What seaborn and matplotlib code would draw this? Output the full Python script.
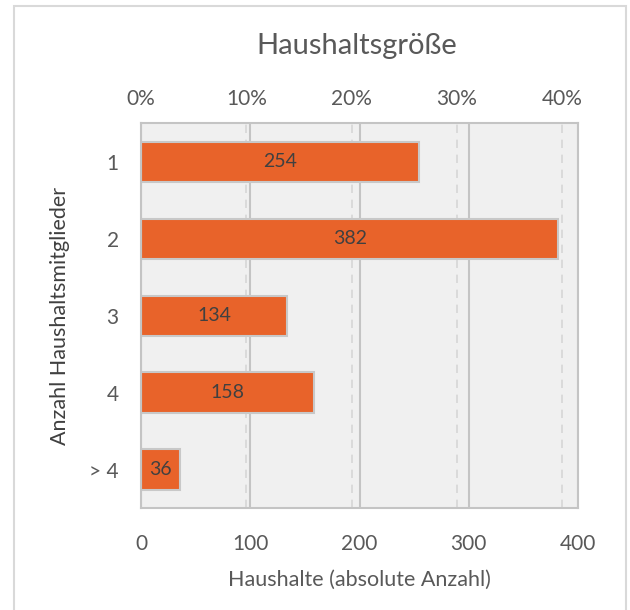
import matplotlib.pyplot as plt
import numpy as np
import pandas as pd
import seaborn as sns
from matplotlib.patches import Rectangle
from matplotlib.ticker import FuncFormatter

# data
sizes = ['1', '2', '3', '4', '> 4']
counts = [254, 382, 134, 158, 36]
pct_ticks = [0, 10, 20, 30, 40]
abs_ticks = [0, 100, 200, 300, 400]

total = sum(counts)
df = pd.DataFrame({'size': sizes, 'count': counts})

sns.set_theme(style='white')
plt.rcParams['font.family'] = ['Lato', 'DejaVu Sans']

text_color = '#595959'
line_color = '#c4c4c4'

fig = plt.figure(figsize=(6.3, 6.1), dpi=100)
ax = fig.add_axes([0.2238, 0.1672, 0.6937, 0.6311])
ax.set_facecolor('#f0f0f0')

sns.barplot(data=df, x='count', y='size', orient='h', color='#E8632A',
            edgecolor='#c8c8c8', linewidth=1.5, width=0.52, saturation=1, ax=ax)

ax.bar_label(ax.containers[0], label_type='center', color='#404040', fontsize=14)

ax.set_xlim(0, 400)
ax.set_ylim(4.5, -0.5)
ax.set_xticks(abs_ticks)
ax.set_xticks([p * total / 100 for p in pct_ticks[1:]], minor=True)
ax.set_axisbelow(True)
ax.grid(axis='x', which='major', color=line_color, linewidth=1.5)
ax.grid(axis='x', which='minor', color='#d6d6d6', linewidth=1.2, linestyle=(0, (5, 4)))
ax.tick_params(axis='both', which='both', length=0, labelsize=15,
               labelcolor=text_color)
ax.tick_params(axis='x', pad=19)
ax.tick_params(axis='y', pad=16)

for sp in ax.spines.values():
    sp.set_color(line_color)
    sp.set_linewidth(1.5)

ax.set_xlabel('Haushalte (absolute Anzahl)', fontsize=15.5, color=text_color, labelpad=11)
ax.set_ylabel('Anzahl Haushaltsmitglieder', fontsize=15.5, color='#404040', labelpad=14)

# top axis in percent of all households
sec = ax.secondary_xaxis('top', functions=(lambda v: v / total * 100,
                                           lambda p: p * total / 100))
sec.set_xticks(pct_ticks)
sec.xaxis.set_major_formatter(FuncFormatter(lambda v, _: f'{v:.0f}%'))
sec.tick_params(length=0, labelsize=15, labelcolor=text_color, pad=10)
sec.spines['top'].set_visible(False)

fig.text(0.5658, 0.925, 'Haushaltsgröße', ha='center', va='center',
         fontsize=21, color=text_color)

# outer frame
fig.patches.append(Rectangle((14 / 630, -0.01), 612 / 630, 1 - 6 / 610 + 0.01,
                             transform=fig.transFigure, fill=False,
                             edgecolor='#d9d9d9', linewidth=1.5))

fig.savefig('out.png', dpi=100)
